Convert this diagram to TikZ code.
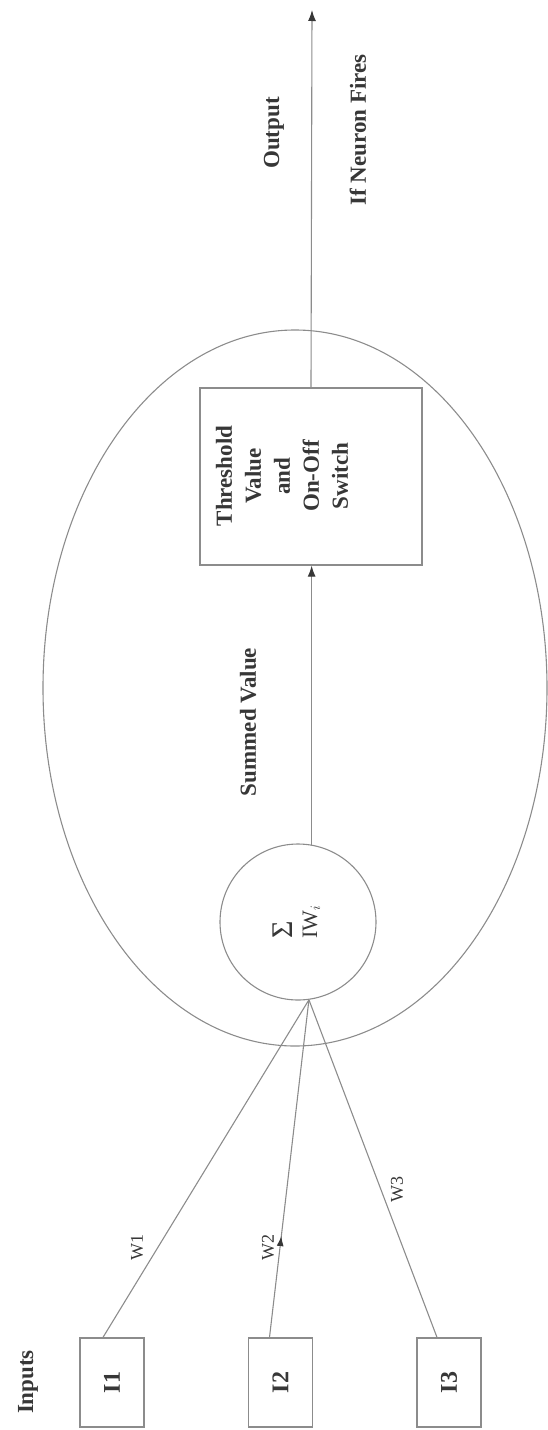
\documentclass[tikz,border=0pt]{standalone}
\usepackage{fontspec}
\usepackage{graphicx}
\setmainfont{Liberation Serif}
\usetikzlibrary{shapes.geometric,arrows.meta,calc,decorations.markings}
\definecolor{linegray}{RGB}{140,140,140}
\definecolor{txt}{RGB}{55,55,55}
\begin{document}
\begin{tikzpicture}[x=1pt,y=-1pt,
  conn/.style={draw=linegray,line width=1.1pt},
  tip/.style={-{Latex[length=11pt,width=8pt,color=txt]}},
  inbox/.style={draw=linegray,line width=1.3pt,minimum width=64pt,minimum height=89pt,inner sep=0pt,text=txt,font=\fontsize{24}{28}\selectfont\bfseries},
  lbl/.style={rotate=90,text=txt,inner sep=0pt,font=\fontsize{23}{27}\selectfont\bfseries},
  wlbl/.style={rotate=90,text=txt,inner sep=0pt,font=\fontsize{18}{22}\selectfont},
  midarrow/.style={postaction={decorate},decoration={markings,mark=at position 0.30 with {\arrow[txt]{Latex[length=10pt,width=7pt]}}}}
]
\useasboundingbox (0,0) rectangle (548,1430);
% neuron body
\node[ellipse,draw=linegray,line width=1.1pt,minimum width=504pt,minimum height=716pt,inner sep=0pt] (neuron) at (295,688) {};
% summation
\node[circle,draw=linegray,line width=1.1pt,minimum size=156pt,inner sep=0pt,text=txt] (sum) at (298,922)
  {\rotatebox{90}{\fontsize{22}{22}\selectfont\begin{tabular}{@{}l@{}}\fontsize{30}{30}\selectfont Σ\\[3pt] IW$_i$\end{tabular}}};
% threshold box
\node[draw=linegray,line width=1.3pt,minimum width=222pt,minimum height=177pt,inner sep=0pt] (thr) at (311,476.5) {};
\node[text=txt,inner sep=0pt] (thrtext) at (284,476)
  {\rotatebox{90}{\fontsize{23}{29}\selectfont\bfseries\begin{tabular}{@{}c@{}}Threshold\\Value\\and\\On-Off\\Switch\end{tabular}}};
% inputs
\node[inbox] (I1) at (112,1382.5) {\rotatebox{90}{I1}};
\node[inbox] (I2) at (280.5,1382.5) {\rotatebox{90}{I2}};
\node[inbox] (I3) at (449,1382.5) {\rotatebox{90}{I3}};
\coordinate (out) at (312,10);
% connectors
\draw[conn] ($(I1.north)+(-9,0)$) -- (sum.-82);
\draw[conn,midarrow] ($(I2.north)+(-11,0)$) -- (sum.-82);
\draw[conn] ($(I3.north)+(-12,0)$) -- (sum.-82);
\draw[conn,tip] (sum.80) -- (sum.80 |- thr.south);
\draw[conn,tip] (thr.north) -- (out);
% labels
\node[lbl] (inputs) at (28,1382) {Inputs};
\node[wlbl] (w1) at (137,1247) {W1};
\node[wlbl] (w2) at (268,1247) {W2};
\node[wlbl] (w3) at (397,1189) {W3};
\node[lbl] (summed) at (248,722) {Summed Value};
\node[lbl] (output) at (274,133) {Output};
\node[lbl] (fires) at (358,130) {If Neuron Fires};
\end{tikzpicture}
\end{document}
